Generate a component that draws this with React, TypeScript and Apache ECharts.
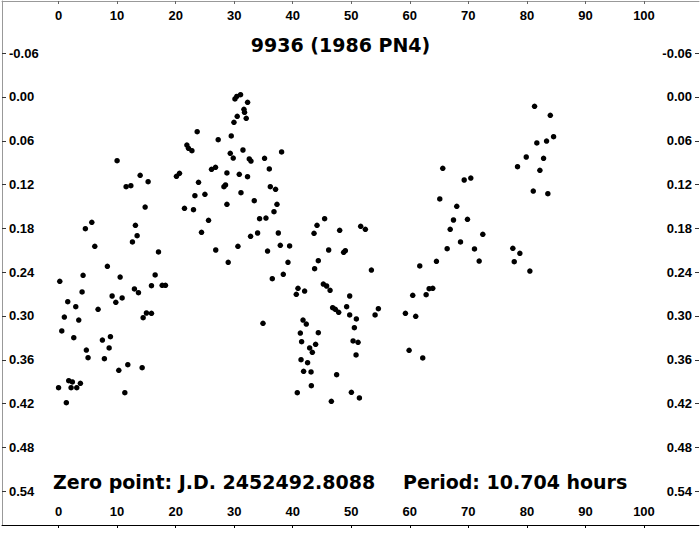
import React, { useEffect, useRef } from "react";
import * as echarts from "echarts";

const titleText = "9936 (1986 PN4)";
const zeroPointText = "Zero point: J.D. 2452492.8088";
const periodText = "Period: 10.704 hours";

const xTicks = [0, 10, 20, 30, 40, 50, 60, 70, 80, 90, 100];
const yTicks = [-0.06, 0, 0.06, 0.12, 0.18, 0.24, 0.3, 0.36, 0.42, 0.48, 0.54];

// rotational phase (%)
const phase = [
  23.68, 27.27, 21.92, 22.2, 22.78, 10.0, 13.94, 15.3, 11.54, 12.35,
  20.14, 20.66, 26.13, 26.81, 23.91, 23.29, 25.0, 14.79, 21.51, 23.05,
  25.62, 5.68, 4.58, 13.13, 13.42, 12.62, 24.42, 6.19, 26.85, 17.07,
  0.21, 4.19, 8.34, 10.52, 16.5, 15.87, 17.7, 18.26, 4.02, 12.96,
  13.65, 9.15, 9.78, 10.86, 1.57, 2.94, 6.75, 0.99, 3.45, 14.45,
  15.01, 15.87, 0.55, 2.6, 7.49, 8.86, 8.64, 4.75, 5.04, 7.83,
  10.29, 11.83, 14.28, 1.74, 2.36, 3.73, 0.0, 2.14, 3.11, 11.32,
  1.33, 30.13, 30.44, 31.09, 32.29, 31.67, 31.77, 30.52, 32.06, 29.96,
  29.5, 29.33, 29.84, 31.5, 32.58, 32.87, 35.19, 38.1, 28.76, 30.87,
  32.28, 36.0, 28.25, 28.52, 31.16, 36.17, 37.07, 28.76, 33.43, 37.31,
  36.8, 34.34, 35.43, 34.0, 32.8, 37.54, 30.64, 28.98, 35.7, 37.88,
  39.47, 39.19, 36.51, 38.39, 43.64, 44.15, 45.45, 48.02, 46.14, 44.37,
  43.74, 51.61, 52.41, 48.7, 48.99, 53.44, 61.7, 40.9, 40.61, 42.03,
  45.23, 45.79, 46.38, 49.73, 63.3, 63.92, 60.5, 62.79, 46.82, 47.28,
  47.85, 49.21, 49.73, 50.87, 54.63, 54.07, 59.25, 61.01, 41.76, 42.32,
  41.3, 44.37, 50.53, 41.52, 43.91, 42.89, 43.35, 50.31, 51.16, 50.82,
  59.88, 62.21, 41.42, 42.54, 41.86, 43.13, 47.5, 43.18, 40.78, 46.6,
  50.02, 51.39, 34.92, 81.31, 84.0, 84.56, 81.7, 83.36, 79.89, 82.85,
  78.4, 82.22, 81.09, 83.58, 65.63, 69.29, 70.42, 65.12, 68.02, 67.46,
  69.85, 66.9, 72.47, 68.66, 66.38, 71.05, 77.6, 78.8, 64.55, 71.85,
  77.84, 80.51,
];

// differential magnitude
const deltaMag = [
  0.0475, 0.0585, 0.0658, 0.0703, 0.0736, 0.0873, 0.1073, 0.116, 0.1229, 0.1215,
  0.1086, 0.1045, 0.099, 0.0963, 0.1168, 0.1352, 0.1333, 0.1507, 0.1525, 0.1544,
  0.1689, 0.1716, 0.1804, 0.1758, 0.19, 0.1986, 0.1853, 0.2045, 0.2096, 0.2123,
  0.2525, 0.2442, 0.2319, 0.2466, 0.2438, 0.2585, 0.2579, 0.2579, 0.2671, 0.263,
  0.2681, 0.2726, 0.2812, 0.2753, 0.2804, 0.2873, 0.2908, 0.3014, 0.3055, 0.3023,
  0.2959, 0.2963, 0.3205, 0.3297, 0.3329, 0.3284, 0.3438, 0.3466, 0.3571, 0.3585,
  0.3744, 0.3667, 0.3708, 0.3886, 0.3904, 0.3922, 0.3982, 0.3982, 0.3982, 0.4051,
  0.4188, 0.0027, -0.0007, -0.0032, 0.0073, 0.0168, 0.021, 0.0264, 0.0292, 0.0347,
  0.0534, 0.0771, 0.0836, 0.0726, 0.0849, 0.0877, 0.084, 0.0753, 0.1041, 0.1059,
  0.1092, 0.0986, 0.1229, 0.1205, 0.1311, 0.1229, 0.1264, 0.147, 0.1421, 0.147,
  0.1571, 0.1667, 0.1658, 0.1863, 0.1908, 0.1863, 0.2045, 0.2264, 0.211, 0.2032,
  0.2041, 0.2264, 0.2489, 0.2429, 0.1867, 0.1758, 0.1667, 0.1826, 0.2096, 0.2242,
  0.2352, 0.1771, 0.1812, 0.2127, 0.2105, 0.237, 0.2315, 0.2621, 0.2703, 0.2658,
  0.2562, 0.2589, 0.2648, 0.2726, 0.2626, 0.2621, 0.2716, 0.2708, 0.2886, 0.2908,
  0.2949, 0.2873, 0.2986, 0.3041, 0.29, 0.2986, 0.2963, 0.3004, 0.3055, 0.311,
  0.3233, 0.3229, 0.316, 0.3352, 0.3388, 0.3438, 0.3497, 0.3342, 0.336, 0.3534,
  0.347, 0.3575, 0.3599, 0.364, 0.3758, 0.3767, 0.3804, 0.3955, 0.4051, 0.4168,
  0.4045, 0.4123, 0.31, 0.0127, 0.0251, 0.0544, 0.063, 0.0603, 0.0822, 0.084,
  0.0955, 0.1004, 0.1288, 0.1325, 0.0977, 0.1137, 0.111, 0.1397, 0.1497, 0.1685,
  0.1675, 0.1812, 0.1881, 0.1986, 0.2078, 0.2082, 0.2073, 0.2141, 0.2251, 0.2247,
  0.2256, 0.2384,
];

const labelFont = {
  fontFamily: "'Liberation Sans', Arial, sans-serif",
  fontWeight: "bold" as const,
  fontSize: 13,
  color: "#000",
};

export default function App() {
  const ref = useRef<HTMLDivElement>(null);

  useEffect(() => {
    if (!ref.current) return;
    const chart = echarts.init(ref.current, undefined, { renderer: "svg" });
    const data = phase.map((p, i) => [p, deltaMag[i]]);
    const xMin = -9.66;
    const xMax = 109.4;
    const yMin = -0.1315;
    const yMax = 0.5863;

    const xAxisBase = {
      type: "value" as const,
      min: xMin,
      max: xMax,
      splitLine: { show: false },
    };
    const yAxisBase = {
      type: "value" as const,
      min: yMin,
      max: yMax,
      inverse: true,
      splitLine: { show: false },
    };

    chart.setOption({
      animation: false,
      backgroundColor: "#fff",
      grid: { left: 2, right: 1, top: 1, bottom: 23, containLabel: false },
      xAxis: [
        {
          ...xAxisBase,
          position: "bottom",
          axisLine: { show: true, onZero: false, lineStyle: { color: "#000", width: 1 } },
          axisTick: { show: true, customValues: xTicks, length: 3, lineStyle: { color: "#000" } },
          axisLabel: {
            ...labelFont,
            inside: true,
            margin: 7,
            customValues: xTicks,
            formatter: (v: number) => String(Math.round(v)),
          },
        },
        {
          ...xAxisBase,
          position: "top",
          axisLine: { show: true, onZero: false, lineStyle: { color: "#999", width: 1 } },
          axisTick: { show: true, inside: true, customValues: xTicks, length: 3, lineStyle: { color: "#666" } },
          axisLabel: {
            ...labelFont,
            inside: true,
            margin: 8,
            customValues: xTicks,
            formatter: (v: number) => String(Math.round(v)),
          },
        },
      ],
      yAxis: [
        {
          ...yAxisBase,
          position: "left",
          axisLine: { show: true, onZero: false, lineStyle: { color: "#999", width: 1 } },
          axisTick: { show: true, inside: true, customValues: yTicks, length: 4, lineStyle: { color: "#333" } },
          axisLabel: {
            ...labelFont,
            inside: true,
            margin: 7,
            customValues: yTicks,
            formatter: (v: number) => v.toFixed(2),
          },
        },
        {
          ...yAxisBase,
          position: "right",
          axisLine: { show: false, onZero: false },
          axisTick: { show: true, inside: true, customValues: yTicks, length: 4, lineStyle: { color: "#333" } },
          axisLabel: {
            ...labelFont,
            inside: true,
            margin: 7,
            customValues: yTicks,
            formatter: (v: number) => v.toFixed(2),
          },
        },
      ],
      graphic: [
        {
          type: "text",
          x: 340.5,
          y: 45,
          style: {
            text: titleText,
            fontFamily: "'DejaVu Sans', sans-serif",
            fontWeight: "bold",
            fontSize: 19,
            fill: "#000",
            align: "center",
            verticalAlign: "middle",
          },
        },
        {
          type: "text",
          x: 53,
          y: 481.5,
          style: {
            text: zeroPointText,
            fontFamily: "'DejaVu Sans', sans-serif",
            fontWeight: "bold",
            fontSize: 19,
            fill: "#000",
            align: "left",
            verticalAlign: "middle",
          },
        },
        {
          type: "text",
          x: 403,
          y: 481.5,
          style: {
            text: periodText,
            fontFamily: "'DejaVu Sans', sans-serif",
            fontWeight: "bold",
            fontSize: 19,
            fill: "#000",
            align: "left",
            verticalAlign: "middle",
          },
        },
      ],
      series: [
        {
          type: "scatter",
          xAxisIndex: 0,
          yAxisIndex: 0,
          data,
          symbol: "circle",
          symbolSize: 5.5,
          itemStyle: { color: "#000", opacity: 1 },
          silent: true,
        },
      ],
    });

    return () => chart.dispose();
  }, []);

  return (
    <div
      ref={ref}
      style={{ position: "fixed", left: 0, top: 0, width: 700, height: 548, background: "#fff" }}
    />
  );
}
